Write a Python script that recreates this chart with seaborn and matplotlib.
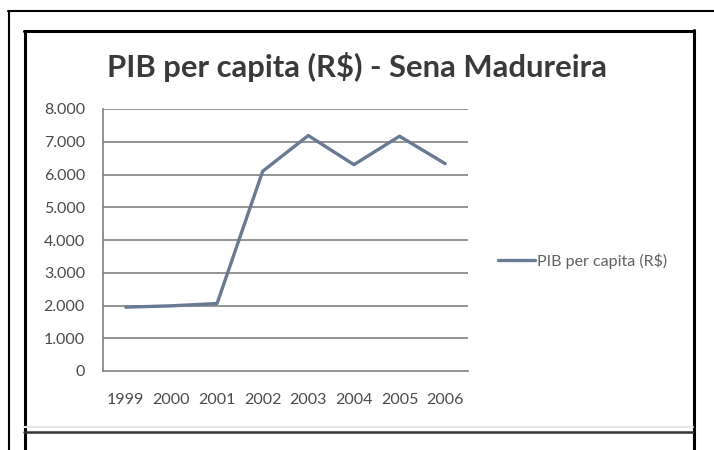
import matplotlib
matplotlib.use("Agg")
import matplotlib.pyplot as plt
from matplotlib.lines import Line2D
import seaborn as sns
import pandas as pd

# ---- data ----
years = ["1999", "2000", "2001", "2002", "2003", "2004", "2005", "2006"]
pib_per_capita = [1950, 1990, 2060, 6100, 7190, 6300, 7170, 6330]
y_ticks = [0, 1000, 2000, 3000, 4000, 5000, 6000, 7000, 8000]
y_tick_labels = ["0", "1.000", "2.000", "3.000", "4.000", "5.000", "6.000", "7.000", "8.000"]
title = "PIB per capita (R$) - Sena Madureira"
series_name = "PIB per capita (R$)"

df = pd.DataFrame({"Ano": years, "PIB": pib_per_capita})

sns.set_theme(style="white")
plt.rcParams["font.family"] = ["Lato", "DejaVu Sans"]

W, H = 714, 450
fig = plt.figure(figsize=(W / 100, H / 100), dpi=100)
fig.patch.set_facecolor("white")

def fx(px):
    return px / W

def fy(py):
    return 1 - py / H

ax = fig.add_axes([fx(103), fy(371), fx(468) - fx(103), fy(109) - fy(371)])

line_color = "#687a94"
grid_color = "#808080"
text_color = "#4a4a4a"

sns.lineplot(data=df, x="Ano", y="PIB", ax=ax, color=line_color, linewidth=2.4,
             label=series_name, sort=False)

ax.set_xlim(-0.5, len(years) - 0.5)
ax.set_ylim(0, 8000)

# gridlines
for v in y_ticks[1:]:
    ax.axhline(v, color=grid_color, linewidth=1.2, zorder=0)

ax.set_yticks(y_ticks)
ax.set_yticklabels(y_tick_labels)
ax.tick_params(axis="y", which="major", direction="out", length=4, width=1,
               color=grid_color, pad=9, labelsize=11.5, labelcolor=text_color)

# x: major ticks at category boundaries, labels at centers
ax.set_xticks([i - 0.5 for i in range(len(years) + 1)])
ax.set_xticklabels([""] * (len(years) + 1))
ax.set_xticks(list(range(len(years))), minor=True)
ax.set_xticklabels(years, minor=True)
ax.tick_params(axis="x", which="major", direction="inout", length=6, width=1,
               color=grid_color)
ax.tick_params(axis="x", which="minor", length=0, pad=16, labelsize=11.5,
               labelcolor=text_color)

for s in ["top", "right"]:
    ax.spines[s].set_visible(False)
for s in ["left", "bottom"]:
    ax.spines[s].set_color(grid_color)
    ax.spines[s].set_linewidth(1.2)

ax.set_xlabel("")
ax.set_ylabel("")

leg = ax.legend(loc="center left", bbox_to_anchor=(fx(484), fy(261)),
                bbox_transform=fig.transFigure, frameon=False, fontsize=11.5,
                handlelength=2.3, handletextpad=0.1, labelcolor="#606060")

fig.text(fx(357), fy(77), title, ha="center", va="baseline", fontsize=22.3,
         fontweight="bold", color="#3a3a3a")

# frame lines (screenshot borders)
def fline(x0, y0, x1, y1, lw, color="black"):
    fig.add_artist(Line2D([fx(x0), fx(x1)], [fy(y0), fy(y1)], linewidth=lw,
                          color=color, transform=fig.transFigure))

fline(8.5, 11, 8.5, 450, 1.5)
fline(8, 11, 714, 11, 1.5)
fline(24.5, 31, 24.5, 450, 2.2)
fline(24, 31, 693.5, 31, 2.2)
fline(693.5, 30, 693.5, 450, 2.2)
fline(24, 427, 693, 427, 1.5, "#e6e6e6")
fline(24, 432, 693, 432, 1.8, "#333333")

fig.savefig("out.png", dpi=100)
